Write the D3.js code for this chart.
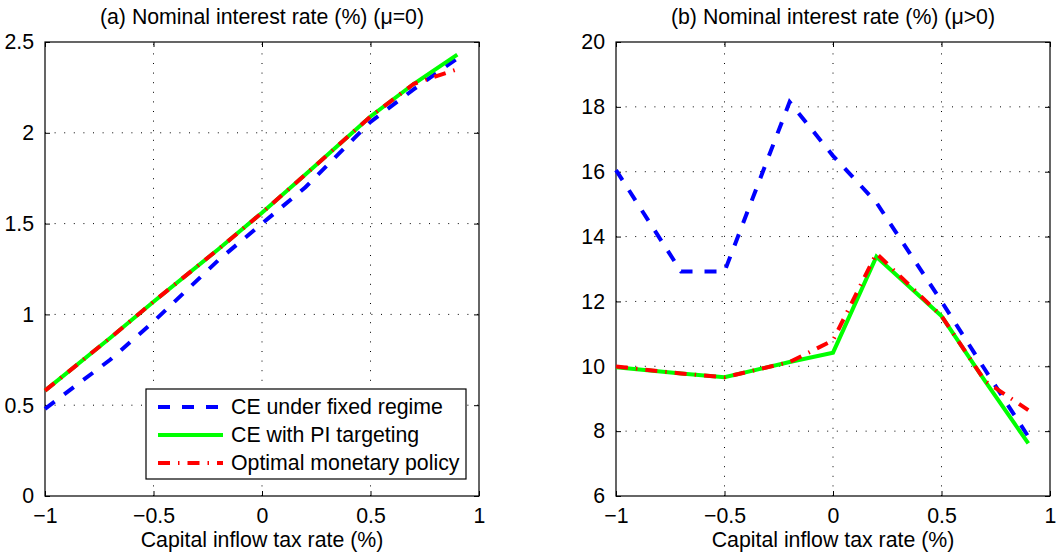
<!DOCTYPE html>
<html>
<head>
<meta charset="utf-8">
<script src="https://cdn.jsdelivr.net/npm/d3@7"></script>
<style>
  body { margin: 0; background: #fff; }
  text { font-family: "Liberation Sans", Arial, sans-serif; fill: #000; }
</style>
</head>
<body>
<svg id="chart" width="1057" height="558"></svg>
<script>
// tax rates (x)
var taxRate = [-1, -0.7, -0.5, -0.2, 0, 0.2, 0.5, 0.7, 0.9];

// panel (a): mu = 0
var fixedA = [0.48, 0.75, 0.96, 1.30, 1.50, 1.70, 2.06, 2.24, 2.41];
var piA    = [0.58, 0.87, 1.07, 1.36, 1.56, 1.77, 2.09, 2.27, 2.43];
var optA   = [0.58, 0.87, 1.07, 1.36, 1.56, 1.77, 2.09, 2.27, 2.35];

// panel (b): mu > 0
var fixedB = [16.05, 12.92, 12.92, 18.15, 16.49, 15.05, 12.0, 9.9, 7.83];
var piB    = [9.97, 9.78, 9.66, 10.13, 10.42, 13.38, 11.55, 9.55, 7.62];
var optB   = [9.99, 9.78, 9.66, 10.13, 10.8, 13.48, 11.55, 9.55, 8.65];

var xTicks = [-1, -0.5, 0, 0.5, 1];
var yTicksA = [0, 0.5, 1, 1.5, 2, 2.5];
var yTicksB = [6, 8, 10, 12, 14, 16, 18, 20];

var seriesNames = ["CE under fixed regime", "CE with PI targeting", "Optimal monetary policy"];
var seriesStyle = [
  { color: "#0000ff", dash: "12,12" },
  { color: "#00ff00", dash: null },
  { color: "#ff0000", dash: "12,8,1.5,8" }
];

var fontSize = "21.3px";
var svg = d3.select("#chart");

function fmt(d) {
  return String(d).replace("-", "\u2212");
}

function drawPanel(opt) {
  var x = d3.scaleLinear().domain([-1, 1]).range([opt.left, opt.right]);
  var y = d3.scaleLinear().domain(opt.yDomain).range([496, 42]);
  var g = svg.append("g");

  //网格 (dotted grid)
  g.append("g").selectAll("line.gx")
    .data(xTicks.slice(1, -1))
    .enter().append("line")
    .attr("x1", function (d) { return x(d); })
    .attr("x2", function (d) { return x(d); })
    .attr("y1", y.range()[0]).attr("y2", y.range()[1])
    .style("stroke", "#000").style("stroke-width", 1)
    .style("stroke-dasharray", "1,8.6");
  g.append("g").selectAll("line.gy")
    .data(opt.yTicks.slice(1, -1))
    .enter().append("line")
    .attr("x1", opt.left).attr("x2", opt.right)
    .attr("y1", function (d) { return y(d); })
    .attr("y2", function (d) { return y(d); })
    .style("stroke", "#000").style("stroke-width", 1)
    .style("stroke-dasharray", "1,8.6");

  // axes, ticks pointing inward on all four sides
  g.append("g").attr("transform", "translate(0,496)")
    .call(d3.axisBottom(x).tickValues(xTicks).tickSize(-5).tickSizeOuter(0).tickPadding(12).tickFormat(fmt));
  g.append("g").attr("transform", "translate(" + opt.left + ",0)")
    .call(d3.axisLeft(y).tickValues(opt.yTicks).tickSize(-5).tickSizeOuter(0).tickPadding(11).tickFormat(fmt));
  g.append("g").attr("transform", "translate(0,42)")
    .call(d3.axisTop(x).tickValues(xTicks).tickSize(-5).tickSizeOuter(0).tickFormat(""));
  g.append("g").attr("transform", "translate(" + opt.right + ",0)")
    .call(d3.axisRight(y).tickValues(opt.yTicks).tickSize(-5).tickSizeOuter(0).tickFormat(""));
  g.selectAll(".domain").remove();
  g.selectAll(".tick line").style("stroke", "#000");
  g.selectAll(".tick text").style("font-size", fontSize)
    .style("font-family", "'Liberation Sans', Arial, sans-serif").style("fill", "#000");

  // box
  g.append("rect")
    .attr("x", opt.left).attr("y", 42)
    .attr("width", opt.right - opt.left).attr("height", 454)
    .style("fill", "none").style("stroke", "#000").style("stroke-width", 1.2);

  // lines
  var line = d3.line()
    .x(function (d) { return x(d[0]); })
    .y(function (d) { return y(d[1]); });
  opt.series.forEach(function (vals, i) {
    g.append("path")
      .datum(taxRate.map(function (t, j) { return [t, vals[j]]; }))
      .attr("d", line)
      .style("fill", "none")
      .style("stroke", seriesStyle[i].color)
      .style("stroke-width", 4)
      .style("stroke-dasharray", seriesStyle[i].dash);
  });

  // title and x label
  g.append("text")
    .attr("x", (opt.left + opt.right) / 2).attr("y", 24)
    .attr("text-anchor", "middle").style("font-size", fontSize)
    .text(opt.title);
  g.append("text")
    .attr("x", (opt.left + opt.right) / 2).attr("y", 547)
    .attr("text-anchor", "middle").style("font-size", fontSize)
    .text("Capital inflow tax rate (%)");
}

drawPanel({ left: 45, right: 479, yDomain: [0, 2.5], yTicks: yTicksA,
  series: [fixedA, piA, optA], title: "(a) Nominal interest rate (%) (\u03bc=0)" });
drawPanel({ left: 616, right: 1050, yDomain: [6, 20], yTicks: yTicksB,
  series: [fixedB, piB, optB], title: "(b) Nominal interest rate (%) (\u03bc>0)" });

//图例 (legend in panel a)
var legend = svg.append("g").attr("transform", "translate(146,389)");
legend.append("rect")
  .attr("width", 320).attr("height", 90)
  .style("fill", "#fff").style("stroke", "#000").style("stroke-width", 1.2);
seriesNames.forEach(function (name, i) {
  var yy = 18 + i * 28;
  legend.append("line")
    .attr("x1", 12).attr("x2", 77).attr("y1", yy).attr("y2", yy)
    .style("stroke", seriesStyle[i].color).style("stroke-width", 4)
    .style("stroke-dasharray", seriesStyle[i].dash);
  legend.append("text")
    .attr("x", 85).attr("y", yy).attr("dy", "0.35em")
    .style("font-size", fontSize)
    .text(name);
});
</script>
</body>
</html>
